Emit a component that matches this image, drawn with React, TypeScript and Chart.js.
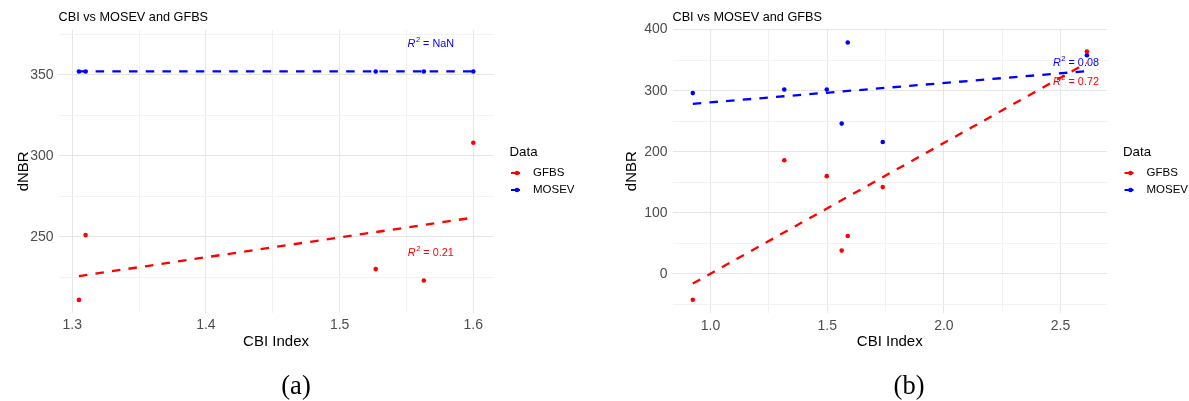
import React, { useEffect, useRef } from "react";
import { Chart, registerables } from "chart.js";
Chart.register(...registerables);

// ---------- Panel (a) data ----------
const aGfbsX = [1.305, 1.31, 1.527, 1.563, 1.6];
const aGfbsY = [211, 251, 230, 223, 308];
const aMosevX = [1.305, 1.31, 1.527, 1.563, 1.6];
const aMosevY = [352, 352, 352, 352, 352];
const aGfbsFitX = [1.305, 1.6];
const aGfbsFitY = [225.7, 261.8];
const aMosevFitX = [1.305, 1.6];
const aMosevFitY = [352, 352];
const aGfbsR2 = "0.21";
const aMosevR2 = "NaN";
const aGfbsR2Pos = [1.568, 240];
const aMosevR2Pos = [1.568, 369];
const aXTicks = [1.3, 1.35, 1.4, 1.45, 1.5, 1.55, 1.6];
const aXLabels = [1.3, 1.4, 1.5, 1.6];
const aYTicks = [225, 250, 275, 300, 325, 350, 375];
const aYLabels = [250, 300, 350];

// ---------- Panel (b) data ----------
const bGfbsX = [0.924, 1.316, 1.498, 1.562, 1.588, 1.738, 2.613];
const bGfbsY = [-42.5, 186, 160, 38, 62, 142, 364];
const bMosevX = [0.924, 1.316, 1.498, 1.562, 1.588, 1.738, 2.613];
const bMosevY = [296, 302, 302, 246, 379, 216, 358];
const bGfbsFitX = [0.924, 2.613];
const bGfbsFitY = [-16, 345.5];
const bMosevFitX = [0.924, 2.613];
const bMosevFitY = [278.4, 332];
const bGfbsR2 = "0.72";
const bMosevR2 = "0.08";
const bGfbsR2Pos = [2.565, 314.7];
const bMosevR2Pos = [2.565, 345.8];
const bXTicks = [1.0, 1.25, 1.5, 1.75, 2.0, 2.25, 2.5];
const bXLabels = [1.0, 1.5, 2.0, 2.5];
const bYTicks = [-50, 0, 50, 100, 150, 200, 250, 300, 350, 400];
const bYLabels = [0, 100, 200, 300, 400];

const TITLE = "CBI vs MOSEV and GFBS";
const X_TITLE = "CBI Index";
const Y_TITLE = "dNBR";
const LEGEND_TITLE = "Data";
const SERIES = ["GFBS", "MOSEV"];

const RED = "#ff0000";
const BLUE = "#0000ff";
const SANS = "'Liberation Sans', Arial, sans-serif";
const SERIF = "'Liberation Serif', 'Times New Roman', serif";
const H = 401;

type Spec = {
  caption: string;
  left: number;
  width: number;
  area: { left: number; top: number; right: number; bottom: number };
  xMin: number; xMax: number; yMin: number; yMax: number;
  xTicks: number[]; xLabels: number[]; yTicks: number[]; yLabels: number[];
  gfbsX: number[]; gfbsY: number[]; mosevX: number[]; mosevY: number[];
  gfbsFitX: number[]; gfbsFitY: number[]; mosevFitX: number[]; mosevFitY: number[];
  gfbsR2: string; mosevR2: string; gfbsR2Pos: number[]; mosevR2Pos: number[];
  captionX: number; yTitleX: number;
};

const near = (arr: number[], v: number) => arr.some((a) => Math.abs(a - v) < 1e-6);
const zip = (xs: number[], ys: number[]) => xs.map((x, i) => ({ x, y: ys[i] }));

function drawR2(ctx: CanvasRenderingContext2D, x: number, y: number, val: string, color: string) {
  const fs = 10.8;
  const fItal = `italic ${fs}px ${SANS}`;
  const fSmall = `${fs * 0.7}px ${SANS}`;
  const fNorm = `${fs}px ${SANS}`;
  const rest = " = " + val;
  ctx.font = fItal; const wR = ctx.measureText("R").width;
  ctx.font = fSmall; const w2 = ctx.measureText("2").width;
  ctx.font = fNorm; const wRest = ctx.measureText(rest).width;
  let cx = x - (wR + w2 + wRest) / 2;
  ctx.fillStyle = color;
  ctx.textAlign = "left";
  ctx.textBaseline = "middle";
  ctx.font = fItal; ctx.fillText("R", cx, y); cx += wR + 0.5;
  ctx.font = fSmall; ctx.fillText("2", cx, y - fs * 0.38); cx += w2;
  ctx.font = fNorm; ctx.fillText(rest, cx, y);
}

function makeChart(canvas: HTMLCanvasElement, p: Spec) {
  const deco = {
    id: "deco",
    afterDraw(chart: any) {
      const ctx: CanvasRenderingContext2D = chart.ctx;
      const xs = chart.scales.x;
      const ys = chart.scales.y;
      const ca = chart.chartArea;
      ctx.save();
      // title
      ctx.fillStyle = "#000";
      ctx.textAlign = "left";
      ctx.textBaseline = "middle";
      ctx.font = `12.7px ${SANS}`;
      ctx.fillText(TITLE, ca.left, 17.5);
      // axis titles
      ctx.font = `15px ${SANS}`;
      ctx.textAlign = "center";
      ctx.fillText(X_TITLE, (ca.left + ca.right) / 2, 341.5);
      ctx.save();
      ctx.translate(p.yTitleX, (ca.top + ca.bottom) / 2);
      ctx.rotate(-Math.PI / 2);
      ctx.fillText(Y_TITLE, 0, 0);
      ctx.restore();
      // R2 annotations
      drawR2(ctx, xs.getPixelForValue(p.mosevR2Pos[0]), ys.getPixelForValue(p.mosevR2Pos[1]), p.mosevR2, BLUE);
      drawR2(ctx, xs.getPixelForValue(p.gfbsR2Pos[0]), ys.getPixelForValue(p.gfbsR2Pos[1]), p.gfbsR2, RED);
      // legend
      const lx = ca.right + 16;
      ctx.fillStyle = "#000";
      ctx.textAlign = "left";
      ctx.font = `13.3px ${SANS}`;
      ctx.fillText(LEGEND_TITLE, lx, 152.5);
      const cols = [RED, BLUE];
      const rowsY = [173, 190];
      SERIES.forEach((s, i) => {
        const ky = rowsY[i];
        ctx.strokeStyle = cols[i];
        ctx.lineWidth = 2;
        ctx.beginPath();
        ctx.moveTo(lx + 1.5, ky);
        ctx.lineTo(lx + 10.5, ky);
        ctx.stroke();
        ctx.fillStyle = cols[i];
        ctx.beginPath();
        ctx.arc(lx + 7.5, ky, 2.3, 0, Math.PI * 2);
        ctx.fill();
        ctx.fillStyle = "#000";
        ctx.font = `11.5px ${SANS}`;
        ctx.fillText(s, lx + 23.5, ky);
      });
      // caption
      ctx.fillStyle = "#000";
      ctx.textAlign = "center";
      ctx.textBaseline = "alphabetic";
      ctx.font = `26.5px ${SERIF}`;
      ctx.fillText(p.caption, p.captionX, 394);
      ctx.restore();
    },
  };

  const gridColor = (majors: number[]) => (c: any) =>
    c.tick && near(majors, c.tick.value) ? "#e6e6e6" : "#f2f2f2";

  return new Chart(canvas, {
    type: "scatter",
    data: {
      datasets: [
        { label: SERIES[0], data: zip(p.gfbsX, p.gfbsY), backgroundColor: RED, borderColor: RED, pointRadius: 2.3, pointBorderWidth: 0, showLine: false },
        { label: SERIES[1], data: zip(p.mosevX, p.mosevY), backgroundColor: BLUE, borderColor: BLUE, pointRadius: 2.3, pointBorderWidth: 0, showLine: false },
        { label: SERIES[0] + " fit", data: zip(p.gfbsFitX, p.gfbsFitY), borderColor: RED, backgroundColor: RED, borderWidth: 2.3, borderDash: [8.5, 8.2], pointRadius: 0, showLine: true, fill: false },
        { label: SERIES[1] + " fit", data: zip(p.mosevFitX, p.mosevFitY), borderColor: BLUE, backgroundColor: BLUE, borderWidth: 2.3, borderDash: [8.5, 8.2], pointRadius: 0, showLine: true, fill: false },
      ],
    },
    options: {
      responsive: false,
      animation: false,
      devicePixelRatio: 1,
      layout: { padding: { left: 0, top: p.area.top, right: p.width - p.area.right, bottom: 0 } },
      plugins: { legend: { display: false }, tooltip: { enabled: false }, title: { display: false } },
      scales: {
        x: {
          type: "linear",
          min: p.xMin,
          max: p.xMax,
          afterBuildTicks: (s: any) => { s.ticks = p.xTicks.map((v) => ({ value: v })); },
          afterFit: (s: any) => { s.height = H - p.area.bottom; },
          ticks: {
            autoSkip: false,
            maxRotation: 0,
            padding: 4,
            color: "#4d4d4d",
            font: { family: SANS, size: 14 },
            callback: (v: any) => (near(p.xLabels, Number(v)) ? Number(v).toFixed(1) : ""),
          },
          grid: { color: gridColor(p.xLabels), lineWidth: 1, drawTicks: false },
          border: { display: false },
        },
        y: {
          type: "linear",
          min: p.yMin,
          max: p.yMax,
          afterBuildTicks: (s: any) => { s.ticks = p.yTicks.map((v) => ({ value: v })); },
          afterFit: (s: any) => { s.width = p.area.left; },
          ticks: {
            autoSkip: false,
            padding: 5,
            color: "#4d4d4d",
            font: { family: SANS, size: 14 },
            callback: (v: any) => (near(p.yLabels, Number(v)) ? String(Math.round(Number(v))) : ""),
          },
          grid: { color: gridColor(p.yLabels), lineWidth: 1, drawTicks: false },
          border: { display: false },
        },
      },
    },
    plugins: [deco],
  } as any);
}

const specA: Spec = {
  caption: "(a)", left: 0, width: 600,
  area: { left: 58.6, top: 30, right: 493.5, bottom: 312.7 },
  xMin: 1.2898, xMax: 1.6151, yMin: 203.1, yMax: 377.6,
  xTicks: aXTicks, xLabels: aXLabels, yTicks: aYTicks, yLabels: aYLabels,
  gfbsX: aGfbsX, gfbsY: aGfbsY, mosevX: aMosevX, mosevY: aMosevY,
  gfbsFitX: aGfbsFitX, gfbsFitY: aGfbsFitY, mosevFitX: aMosevFitX, mosevFitY: aMosevFitY,
  gfbsR2: aGfbsR2, mosevR2: aMosevR2, gfbsR2Pos: aGfbsR2Pos, mosevR2Pos: aMosevR2Pos,
  captionX: 296, yTitleX: 24,
};

const specB: Spec = {
  caption: "(b)", left: 600, width: 589,
  area: { left: 72.5, top: 29, right: 507, bottom: 313.3 },
  xMin: 0.837, xMax: 2.699, yMin: -64.7, yMax: 401,
  xTicks: bXTicks, xLabels: bXLabels, yTicks: bYTicks, yLabels: bYLabels,
  gfbsX: bGfbsX, gfbsY: bGfbsY, mosevX: bMosevX, mosevY: bMosevY,
  gfbsFitX: bGfbsFitX, gfbsFitY: bGfbsFitY, mosevFitX: bMosevFitX, mosevFitY: bMosevFitY,
  gfbsR2: bGfbsR2, mosevR2: bMosevR2, gfbsR2Pos: bGfbsR2Pos, mosevR2Pos: bMosevR2Pos,
  captionX: 309, yTitleX: 31.7,
};

function Panel({ spec }: { spec: Spec }) {
  const ref = useRef<HTMLCanvasElement | null>(null);
  useEffect(() => {
    if (!ref.current) return;
    const c = makeChart(ref.current, spec);
    return () => c.destroy();
  }, [spec]);
  return (
    <canvas
      ref={ref}
      width={spec.width}
      height={H}
      style={{ position: "absolute", left: spec.left, top: 0, width: spec.width, height: H }}
    />
  );
}

export default function App() {
  return (
    <div style={{ position: "absolute", left: 0, top: 0, width: 1189, height: H, background: "#fff", overflow: "hidden" }}>
      <Panel spec={specA} />
      <Panel spec={specB} />
    </div>
  );
}
